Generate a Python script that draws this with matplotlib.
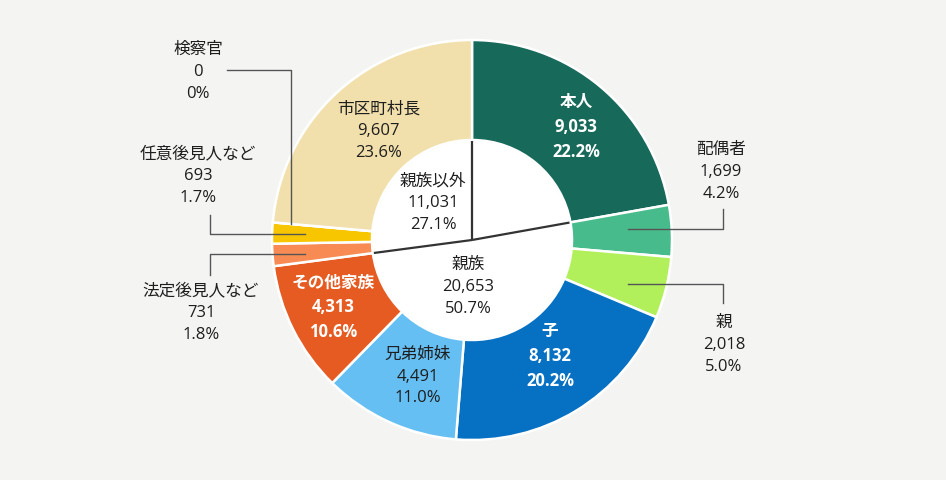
import numpy as np
import matplotlib
matplotlib.use("Agg")
import matplotlib.pyplot as plt
from matplotlib.patches import Circle

# 数字は幅広の欧文フォント、和文は Noto CJK にフォールバック
plt.rcParams["font.family"] = ["Open Sans", "Noto Sans CJK JP", "DejaVu Sans"]

# ── データ ──────────────────────────────────────────────
labels = ["本人", "配偶者", "親", "子", "兄弟姉妹", "その他家族",
          "法定後見人など", "任意後見人など", "検察官", "市区町村長"]
values = [9033, 1699, 2018, 8132, 4491, 4313, 731, 693, 0, 9607]
pcts = ["22.2%", "4.2%", "5.0%", "20.2%", "11.0%", "10.6%",
        "1.8%", "1.7%", "0%", "23.6%"]
colors = ["#17695a", "#48bb8c", "#b1f05b", "#0670c2", "#66bff3", "#e55b22",
          "#f78b53", "#f7c600", "#f7c600", "#f1dfac"]

group_labels = ["親族", "親族以外"]
group_values = [20653, 11031]
group_pcts = ["50.7%", "27.1%"]

BG = "#f4f5f3"
TXT = "#1e1e1e"
FS = 12
LS = 1.48
CX, CY = 472, 240      # 中心 (pixel)
R_OUT, R_IN = 200, 100

fig = plt.figure(figsize=(9.46, 4.8), dpi=100, facecolor=BG)
ax = fig.add_axes([0, 0, 1, 1])
ax.set_facecolor(BG)

wedges, _ = ax.pie(
    values, colors=colors, startangle=90, counterclock=False,
    radius=R_OUT, center=(CX, CY),
    wedgeprops=dict(width=R_OUT - R_IN, edgecolor="white", linewidth=1.8),
)
ax.set_xlim(0, 946)
ax.set_ylim(0, 480)
ax.set_aspect("equal")
ax.axis("off")

# 中央の白い円と区切り線
ax.add_patch(Circle((CX, CY), R_IN - 1, facecolor="white", edgecolor="none", zorder=3))
total = sum(values)
cum = np.cumsum(values) / total


def polar(frac, r):
    a = np.deg2rad(90 - 360 * frac)
    return CX + r * np.cos(a), CY + r * np.sin(a)


for frac in [0.0, cum[0], cum[5]]:
    x, y = polar(frac, R_IN - 1)
    ax.plot([CX, x], [CY, y], color="#333333", lw=1.6, zorder=4, solid_capstyle="butt")

# リング内ラベル
inner_idx = {0: ("white", "bold"), 3: ("white", "bold"), 4: (TXT, "normal"),
             5: ("white", "bold"), 9: (TXT, "normal")}
offsets = {0: (8, -2), 3: (0, 12), 4: (8, 0), 5: (-5, 0), 9: (8, -2)}
for i, (c, w) in inner_idx.items():
    mid = cum[i] - values[i] / total / 2
    x, y = polar(mid, 150)
    dx, dy = offsets[i]
    ax.text(x + dx, y + dy, f"{labels[i]}\n{values[i]:,}\n{pcts[i]}",
            ha="center", va="center", fontsize=FS, color=c, fontweight=w,
            linespacing=LS, zorder=5)

# 中央ラベル（親族・親族以外）
ax.text(468, 480 - 287, f"{group_labels[0]}\n{group_values[0]:,}\n{group_pcts[0]}",
        ha="center", va="center", fontsize=FS, color=TXT, linespacing=LS, zorder=5)
ax.text(433, 480 - 203, f"{group_labels[1]}\n{group_values[1]:,}\n{group_pcts[1]}",
        ha="center", va="center", fontsize=FS, color=TXT, linespacing=LS, zorder=5)

# 外側ラベルと引き出し線 (pixel 座標, y は上から)
outer = {
    1: ((721, 172), [(723, 209), (723, 229), (628, 229)]),
    2: ((724, 345), [(723, 303), (723, 284), (628, 284)]),
    6: ((201, 313), [(210, 275), (210, 254), (305, 254)]),
    7: ((198, 176), [(210, 215), (210, 234), (305, 234)]),
    8: ((198, 72), [(227, 70), (291, 70), (291, 224)]),
}
for i, ((tx, ty), path) in outer.items():
    ax.text(tx, 480 - ty, f"{labels[i]}\n{values[i]:,}\n{pcts[i]}",
            ha="center", va="center", fontsize=FS, color=TXT, linespacing=LS, zorder=5)
    xs = [p[0] for p in path]
    ys = [480 - p[1] for p in path]
    ax.plot(xs, ys, color="#555555", lw=1.0, zorder=6)

fig.savefig("out.png", dpi=100, facecolor=BG)
